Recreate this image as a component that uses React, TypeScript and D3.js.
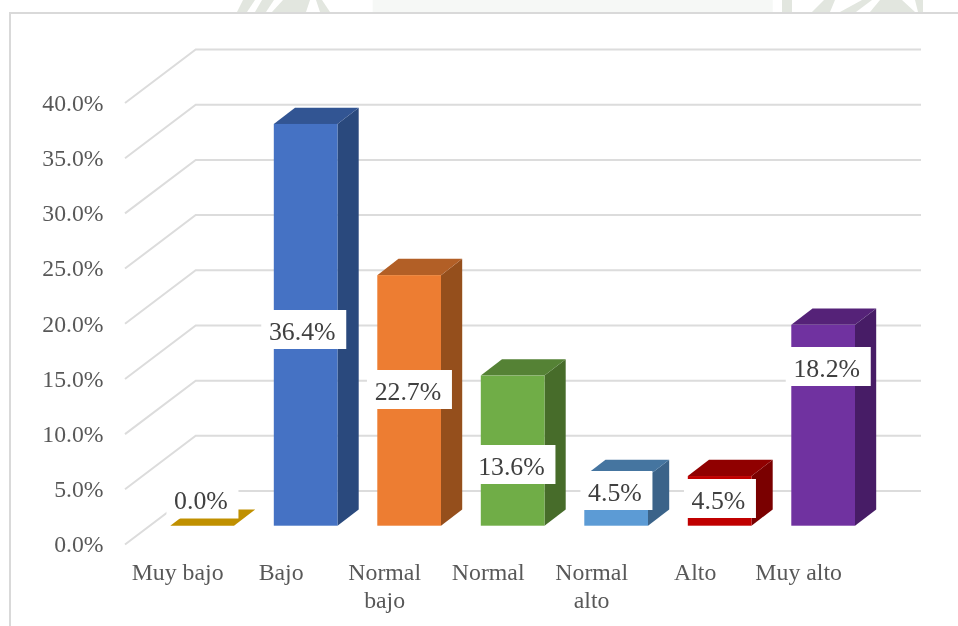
import React from "react";
import * as d3 from "d3";

const categories = ["Muy bajo", "Bajo", "Normal bajo", "Normal", "Normal alto", "Alto", "Muy alto"];
const values = [0, 36.4, 22.7, 13.6, 4.5, 4.5, 18.2];
const valueLabels = ["0.0%", "36.4%", "22.7%", "13.6%", "4.5%", "4.5%", "18.2%"];
const frontColors = ["#C09000", "#4472C4", "#ED7D31", "#70AD47", "#5B9BD5", "#C00000", "#7030A0"];
const topColors = ["#C09000", "#335593", "#B25E25", "#548236", "#4474A0", "#900000", "#542478"];
const sideColors = ["#C09000", "#29487D", "#954F1D", "#476C2B", "#3A6489", "#7A0000", "#471F66"];
const ticks = [0, 5, 10, 15, 20, 25, 30, 35, 40];

const W = 958;
const H = 626;
const depthX = 21.2;
const depthY = 16.3;
const gridColor = "#DCDCDC";
const tickColor = "#595959";
const labelColor = "#404040";
const serif = "'Liberation Serif', 'Times New Roman', serif";

// label box centre relative to the bar's front-face centre x, and absolute centre y
const labelBoxCY = [499, 329.5, 389.5, 464.5, 490.5, 498.5, 366.5];
const labelBoxDX = [0, -2.2, 0, 0, 0, 0, 4.8];

export default function App() {
  const frontY = d3.scaleLinear().domain([0, 40]).range([544.5, 103]);
  const backY = d3.scaleLinear().domain([0, 40]).range([491, 49.5]);
  const barY = d3.scaleLinear().domain([0, 40]).range([525.7, 84.2]);
  const x = d3
    .scaleBand<string>()
    .domain(categories)
    .range([170.3, 170.3 + 6 * 103.5 + 63.7])
    .paddingInner(1 - 63.7 / 103.5)
    .paddingOuter(0);
  const line = d3.line<[number, number]>();
  const area = (pts: [number, number][]) => line(pts) + "Z";
  const bw = x.bandwidth();

  return (
    <div style={{ position: "fixed", left: 0, top: 0, width: W, height: H, background: "#fff" }}>
      <svg width={W} height={H} style={{ display: "block" }}>
        <defs>
          <filter id="soft" x="-2%" y="-2%" width="104%" height="104%">
            <feGaussianBlur stdDeviation="0.45" />
          </filter>
        </defs>
        <rect width={W} height={H} fill="#fff" />
        <g filter="url(#soft)">
          {/* page watermark showing above the chart */}
          <rect x={372.7} y={0} width={400} height={12} fill="#F6F8F6" />
          <g fill="#E2E6DF">
            <path d="M243,0L255,0L247,12L237,12Z" />
            <path d="M262,0L274,0L266,12L255,12Z" />
            <path d="M283,0L310,0L306,12L272,12Z" />
            <path d="M316,0L322,0L330,12L320,12Z" />
            <path d="M782,0L792,0L792,12L782,12Z" />
            <path d="M812,12L824,0L835,0L830,12Z" />
            <path d="M840,12L862,0L872,0L856,12Z" />
            <path d="M880,0L902,0L915,12L870,12Z" />
            <path d="M915,0L923,0L923,12L918,12Z" />
          </g>
          {/* chart frame */}
          <path d="M10,626V13H958" fill="none" stroke="#D9D9D9" strokeWidth={2} />

          {/* gridlines: wall and floor */}
          {ticks.map((t) => (
            <path
              key={t}
              d={line([
                [125, frontY(t)],
                [195.7, backY(t)],
                [921, backY(t)],
              ])!}
              fill="none"
              stroke={gridColor}
              strokeWidth={2}
            />
          ))}

          {/* tick labels */}
          {ticks.map((t) => (
            <text
              key={t}
              x={103.5}
              y={frontY(t) + 7.8}
              textAnchor="end"
              fontFamily={serif}
              fontSize={23.7}
              fill={tickColor}
            >
              {t.toFixed(1)}%
            </text>
          ))}

          {/* 3D bars */}
          {categories.map((c, i) => {
            const x0 = x(c)!;
            const x1 = x0 + bw;
            const y0 = barY(0);
            const y1 = barY(values[i]);
            return (
              <g key={c}>
                <path
                  d={area([
                    [x1, y0],
                    [x1 + depthX, y0 - depthY],
                    [x1 + depthX, y1 - depthY],
                    [x1, y1],
                  ])}
                  fill={sideColors[i]}
                />
                <path
                  d={area([
                    [x0, y1],
                    [x0 + depthX, y1 - depthY],
                    [x1 + depthX, y1 - depthY],
                    [x1, y1],
                  ])}
                  fill={topColors[i]}
                />
                <rect x={x0} y={y1} width={bw} height={y0 - y1} fill={frontColors[i]} />
              </g>
            );
          })}

          {/* data labels */}
          {categories.map((c, i) => {
            const w = valueLabels[i].length === 4 ? 72 : 85;
            const cx = x(c)! + bw / 2 + labelBoxDX[i] + 0.3;
            const cy = labelBoxCY[i];
            return (
              <g key={c}>
                <rect x={cx - w / 2} y={cy - 19.5} width={w} height={39} fill="#fff" />
                <text
                  x={cx - 1.5}
                  y={cy + 10.3}
                  textAnchor="middle"
                  fontFamily={serif}
                  fontSize={25.8}
                  fill={labelColor}
                >
                  {valueLabels[i]}
                </text>
              </g>
            );
          })}

          {/* category labels */}
          {categories.map((c) => {
            const parts = c === "Normal bajo" || c === "Normal alto" ? c.split(" ") : [c];
            const cx = x(c)! + bw / 2 - 24.5;
            return (
              <text
                key={c}
                textAnchor="middle"
                fontFamily={serif}
                fontSize={23.8}
                fill={tickColor}
              >
                {parts.map((p, k) => (
                  <tspan key={p} x={cx} y={580 + k * 27.5}>
                    {p}
                  </tspan>
                ))}
              </text>
            );
          })}
        </g>
      </svg>
    </div>
  );
}
